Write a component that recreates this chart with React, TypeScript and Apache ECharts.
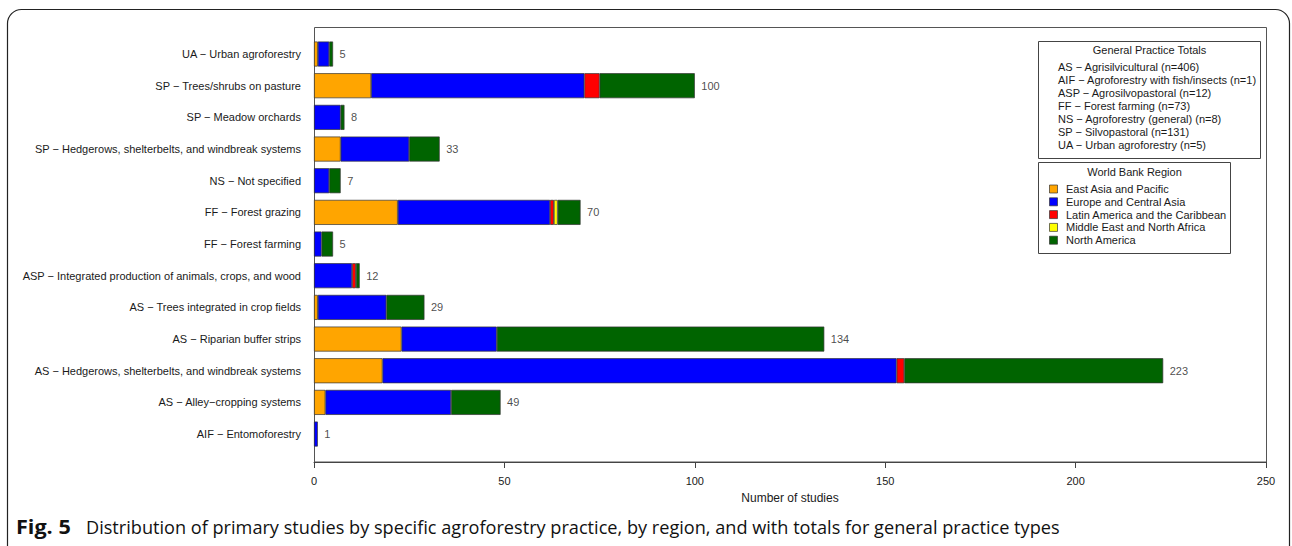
import React, { useEffect, useRef } from "react";
import * as echarts from "echarts";

// Categories, top to bottom as shown
const categories = [
  "UA − Urban agroforestry",
  "SP − Trees/shrubs on pasture",
  "SP − Meadow orchards",
  "SP − Hedgerows, shelterbelts, and windbreak systems",
  "NS − Not specified",
  "FF − Forest grazing",
  "FF − Forest farming",
  "ASP − Integrated production of animals, crops, and wood",
  "AS − Trees integrated in crop fields",
  "AS − Riparian buffer strips",
  "AS − Hedgerows, shelterbelts, and windbreak systems",
  "AS − Alley−cropping systems",
  "AIF − Entomoforestry",
];

const regions = [
  "East Asia and Pacific",
  "Europe and Central Asia",
  "Latin America and the Caribbean",
  "Middle East and North Africa",
  "North America",
];
const regionColors = ["#FFA500", "#0000FF", "#FF0000", "#FFFF00", "#006400"];

const eastAsiaPacific = [1, 15, 0, 7, 0, 22, 0, 0, 1, 23, 18, 3, 0];
const europeCentralAsia = [3, 56, 7, 18, 4, 40, 2, 10, 18, 25, 135, 33, 1];
const latinAmericaCaribbean = [0, 4, 0, 0, 0, 1, 0, 1, 0, 0, 2, 0, 0];
const middleEastNorthAfrica = [0, 0, 0, 0, 0, 1, 0, 0, 0, 0, 0, 0, 0];
const northAmerica = [1, 25, 1, 8, 3, 6, 3, 1, 10, 86, 68, 13, 0];
const totals = [5, 100, 8, 33, 7, 70, 5, 12, 29, 134, 223, 49, 1];

const xMin = 0;
const xMax = 250;
const xInterval = 50;

const practiceTotalsTitle = "General Practice Totals";
const practiceTotals = [
  "AS − Agrisilvicultural (n=406)",
  "AIF − Agroforestry with fish/insects (n=1)",
  "ASP − Agrosilvopastoral (n=12)",
  "FF − Forest farming (n=73)",
  "NS − Agroforestry (general) (n=8)",
  "SP − Silvopastoral (n=131)",
  "UA − Urban agroforestry (n=5)",
];
const regionLegendTitle = "World Bank Region";
const xAxisTitle = "Number of studies";
const captionBold = "Fig. 5";
const captionText =
  "Distribution of primary studies by specific agroforestry practice, by region, and with totals for general practice types";

const FONT = '"Liberation Sans", Arial, Helvetica, sans-serif';
const TXT = "#1a1a1a";

export default function App() {
  const ref = useRef<HTMLDivElement>(null);

  useEffect(() => {
    if (!ref.current) return;
    const chart = echarts.init(ref.current, undefined, { renderer: "svg" });
    const regionData = [
      eastAsiaPacific,
      europeCentralAsia,
      latinAmericaCaribbean,
      middleEastNorthAfrica,
      northAmerica,
    ];

    const barSeries = regions.map((name, k) => ({
      name,
      type: "bar",
      stack: "total",
      barWidth: 25,
      silent: true,
      data: regionData[k].map((v) => (v === 0 ? null : v)),
      itemStyle: {
        color: regionColors[k],
        borderColor: "#333",
        borderWidth: 0.7,
      },
    }));

    const labelSeries = {
      type: "scatter",
      silent: true,
      symbolSize: 1,
      itemStyle: { color: "transparent" },
      data: totals.map((t, i) => [t, categories[i]]),
      label: {
        show: true,
        position: "right",
        distance: 6,
        color: TXT,
        fontFamily: FONT,
        fontSize: 11,
        formatter: (p: any) => String(p.value[0]),
      },
    };

    const graphics: any[] = [];
    // outer rounded frame
    graphics.push({
      type: "rect",
      silent: true,
      shape: { x: 7.5, y: 9.5, width: 1282, height: 552, r: 14 },
      style: { fill: "none", stroke: "#222", lineWidth: 1.2 },
    });
    // plot box
    graphics.push({
      type: "rect",
      silent: true,
      shape: { x: 314.5, y: 27.5, width: 952, height: 434.5 },
      style: { fill: "none", stroke: "#555", lineWidth: 1 },
    });
    // legend 1 box
    graphics.push({
      type: "rect",
      silent: true,
      shape: { x: 1038.5, y: 41.5, width: 222, height: 117 },
      style: { fill: "#fff", stroke: "#444", lineWidth: 1 },
    });
    graphics.push({
      type: "text",
      silent: true,
      x: 1149.5,
      y: 50,
      style: {
        text: practiceTotalsTitle,
        fill: TXT,
        font: `11px ${FONT}`,
        align: "center",
        verticalAlign: "middle",
      },
    });
    practiceTotals.forEach((t, i) => {
      graphics.push({
        type: "text",
        silent: true,
        x: 1058,
        y: 67 + i * 13,
        style: {
          text: t,
          fill: TXT,
          font: `11px ${FONT}`,
          align: "left",
          verticalAlign: "middle",
        },
      });
    });
    // legend 2 box
    graphics.push({
      type: "rect",
      silent: true,
      shape: { x: 1038.5, y: 162.5, width: 192, height: 91 },
      style: { fill: "#fff", stroke: "#444", lineWidth: 1 },
    });
    graphics.push({
      type: "text",
      silent: true,
      x: 1134.5,
      y: 171.5,
      style: {
        text: regionLegendTitle,
        fill: TXT,
        font: `11px ${FONT}`,
        align: "center",
        verticalAlign: "middle",
      },
    });
    regions.forEach((r, i) => {
      const cy = 189 + i * 12.8;
      graphics.push({
        type: "rect",
        silent: true,
        shape: { x: 1049.5, y: cy - 4, width: 8, height: 8 },
        style: { fill: regionColors[i], stroke: "#333", lineWidth: 0.7 },
      });
      graphics.push({
        type: "text",
        silent: true,
        x: 1066,
        y: cy,
        style: {
          text: r,
          fill: TXT,
          font: `11px ${FONT}`,
          align: "left",
          verticalAlign: "middle",
        },
      });
    });
    // caption
    graphics.push({
      type: "text",
      silent: true,
      x: 16,
      y: 526,
      scaleX: 1.08,
      style: {
        text: captionBold,
        fill: "#111",
        font: `bold 20px "Open Sans", sans-serif`,
        align: "left",
        verticalAlign: "middle",
      },
    });
    graphics.push({
      type: "text",
      silent: true,
      x: 86,
      y: 526,
      scaleX: 0.955,
      style: {
        text: captionText,
        fill: "#111",
        font: `19px "Open Sans", sans-serif`,
        align: "left",
        verticalAlign: "middle",
      },
    });

    chart.setOption({
      animation: false,
      grid: { left: 314, right: 26, top: 38.2, bottom: 96.1, containLabel: false },
      xAxis: {
        type: "value",
        min: xMin,
        max: xMax,
        interval: xInterval,
        offset: 12.1,
        splitLine: { show: false },
        axisLine: { show: true, lineStyle: { color: "#444", width: 1 } },
        axisTick: { show: true, length: 6, lineStyle: { color: "#444" } },
        axisLabel: {
          color: TXT,
          fontFamily: FONT,
          fontSize: 11,
          margin: 13,
        },
        name: xAxisTitle,
        nameLocation: "middle",
        nameGap: 30,
        nameTextStyle: { color: TXT, fontFamily: FONT, fontSize: 12 },
      },
      yAxis: {
        type: "category",
        data: categories,
        inverse: true,
        axisLine: { show: false },
        axisTick: { show: false },
        splitLine: { show: false },
        axisLabel: {
          color: TXT,
          fontFamily: FONT,
          fontSize: 11,
          margin: 13,
        },
      },
      series: [...barSeries, labelSeries],
      graphic: graphics,
    });

    return () => chart.dispose();
  }, []);

  return (
    <div
      ref={ref}
      style={{ position: "absolute", left: 0, top: 0, width: 1292, height: 546 }}
    />
  );
}
